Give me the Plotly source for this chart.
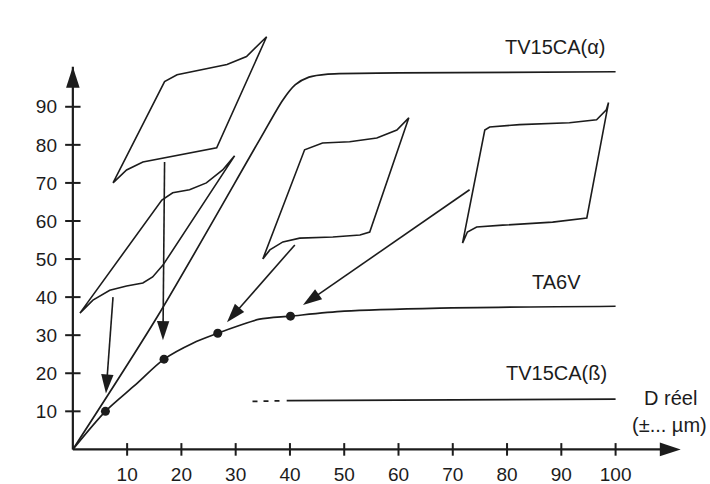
import plotly.graph_objects as go

INK = "#1c1c1c"
FONT = "Liberation Sans, Arial, sans-serif"

# Growth curves (thickness vs real dimension)
alpha_x = [0, 15.5, 34.4, 38.7, 41.0, 43.5, 47.0, 60.0, 100.0]
alpha_y = [0, 34.7, 81.3, 91.8, 95.8, 97.8, 98.6, 98.9, 99.2]

ta6v_x = [0, 6.0, 11.4, 16.8, 22.1, 26.7, 30.8, 34.4, 40.1, 50.0, 67.6, 100.0]
ta6v_y = [0, 10.0, 16.8, 23.7, 27.9, 30.5, 32.6, 34.2, 35.0, 36.3, 37.1, 37.6]

dots_x = [6.0, 16.8, 26.7, 40.1]
dots_y = [10.0, 23.7, 30.5, 35.0]

beta_x = [39.4, 100.0]
beta_y = [12.8, 13.2]
beta_dash_x = [33.1, 39.0]
beta_dash_y = [12.6, 12.8]

# Hysteresis-like profile loops
loop_a_x = [1.3, 16.4, 18.4, 21.5, 24.6, 27.6, 29.8, 16.6, 14.7, 12.9, 9.9, 6.8, 3.7, 1.3]
loop_a_y = [35.8, 65.5, 67.4, 68.2, 70.0, 73.4, 77.1, 48.4, 45.3, 43.7, 42.9, 41.8, 39.2, 35.8]

loop_b_x = [7.4, 16.9, 19.2, 23.4, 28.4, 32.0, 35.7, 26.5, 23.4, 17.3, 12.9, 9.9, 7.4]
loop_b_y = [70.0, 96.6, 98.4, 99.7, 101.1, 103.2, 108.4, 79.2, 78.4, 76.8, 75.5, 73.4, 70.0]

loop_c_x = [35.0, 42.7, 46.0, 51.0, 56.0, 59.7, 61.9, 54.7, 52.9, 47.9, 41.8, 38.7, 36.3, 35.0]
loop_c_y = [50.0, 78.7, 80.5, 80.8, 81.8, 83.9, 87.1, 57.1, 56.3, 55.8, 55.5, 54.5, 52.4, 50.0]

loop_d_x = [71.8, 75.9, 76.8, 82.3, 91.5, 96.5, 98.3, 98.7, 94.7, 88.4, 79.2, 74.4, 72.7, 71.8]
loop_d_y = [54.2, 83.9, 84.7, 85.3, 85.8, 86.6, 89.2, 91.1, 60.8, 59.7, 58.9, 58.4, 57.1, 54.2]

# Pointer arrows: (start x, start y, end x, end y)
pointers = [
    (7.4, 40.0, 6.1, 14.7),
    (16.9, 75.5, 16.6, 28.7),
    (40.9, 53.7, 28.4, 33.4),
    (73.1, 68.2, 42.4, 37.9),
]

x_ticks = [10, 20, 30, 40, 50, 60, 70, 80, 90, 100]
y_ticks = [10, 20, 30, 40, 50, 60, 70, 80, 90]
x_axis_end = 112
y_axis_end = 100.5

fig = go.Figure()


def add_line(x, y, width=1.7, dash=None, shape="linear"):
    fig.add_trace(go.Scatter(x=x, y=y, mode="lines",
                             line=dict(color=INK, width=width, dash=dash,
                                       shape=shape, smoothing=0.8),
                             hoverinfo="skip", showlegend=False))


def add_arrow(x0, y0, x1, y1, width=1.7, size=15):
    fig.add_trace(go.Scatter(x=[x0, x1], y=[y0, y1], mode="lines+markers",
                             line=dict(color=INK, width=width),
                             marker=dict(symbol="arrow", size=[0, size],
                                         angleref="previous", color=INK,
                                         opacity=1, line=dict(width=0)),
                             cliponaxis=False,
                             hoverinfo="skip", showlegend=False))


# axes with arrowheads
add_arrow(0, 0, x_axis_end, 0, width=2.2, size=22)
add_arrow(0, 0, 0, y_axis_end, width=2.2, size=22)

# crossing tick marks
fig.add_trace(go.Scatter(x=x_ticks, y=[0] * len(x_ticks), mode="markers",
                         marker=dict(symbol="line-ns", size=9,
                                     line=dict(color=INK, width=2)),
                         cliponaxis=False, hoverinfo="skip", showlegend=False))
fig.add_trace(go.Scatter(x=[0] * len(y_ticks), y=y_ticks, mode="markers",
                         marker=dict(symbol="line-ew", size=11,
                                     line=dict(color=INK, width=2)),
                         cliponaxis=False, hoverinfo="skip", showlegend=False))

add_line(alpha_x, alpha_y, shape="spline")
add_line(ta6v_x, ta6v_y, shape="spline")
add_line(beta_x, beta_y)
add_line(beta_dash_x, beta_dash_y, dash="5px,6px")

for lx, ly in [(loop_a_x, loop_a_y), (loop_b_x, loop_b_y),
               (loop_c_x, loop_c_y), (loop_d_x, loop_d_y)]:
    add_line(lx, ly, width=1.6)

for x0, y0, x1, y1 in pointers:
    add_arrow(x0, y0, x1, y1, width=1.6, size=20)

fig.add_trace(go.Scatter(x=dots_x, y=dots_y, mode="markers",
                         marker=dict(color=INK, size=9),
                         hoverinfo="skip", showlegend=False))

labels = [
    ("TV15CA(α)", 88.8, 105.8, "center"),
    ("TA6V", 89.1, 43.9, "center"),
    ("TV15CA(ß)", 89.1, 20.0, "center"),
    ("D réel", 110.1, 13.4, "center"),
    ("(±... µm)", 109.9, 6.3, "center"),
    ("épaisseur", -10.9, 111.2, "left"),
    ("(µm)", -10.9, 103.7, "left"),
]
for text, lx, ly, anchor in labels:
    fig.add_annotation(x=lx, y=ly, text=text, showarrow=False,
                       xanchor=anchor, yanchor="middle",
                       font=dict(family=FONT, size=20, color=INK))

fig.update_layout(
    width=710, height=484,
    margin=dict(l=62, r=12.7, t=4.4, b=27.4, pad=0),
    paper_bgcolor="white", plot_bgcolor="white",
    xaxis=dict(range=[-2, 115], tickvals=x_ticks, ticks="",
               showgrid=False, zeroline=False, showline=False,
               automargin=False, ticklabelstandoff=4,
               tickfont=dict(family=FONT, size=19, color=INK)),
    yaxis=dict(range=[-2, 117], tickvals=y_ticks, ticks="",
               showgrid=False, zeroline=False, showline=False,
               automargin=False, ticklabelstandoff=4,
               tickfont=dict(family=FONT, size=19, color=INK)),
)

fig.write_html("out.html")
